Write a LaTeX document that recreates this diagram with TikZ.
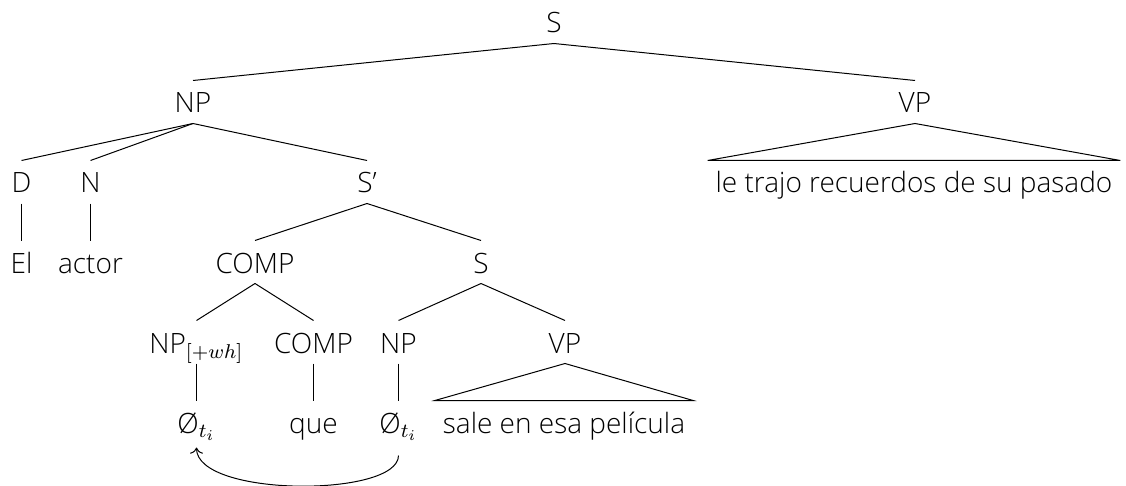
\documentclass[tikz,border=0pt]{standalone}
\usepackage{fontspec}
\setmainfont{Open Sans}[UprightFont=* Light]
\usepackage{tikz}
\usetikzlibrary{arrows.meta, positioning, calc}

\tikzset{
    lbl/.style={anchor=base, font=\fontsize{11.2pt}{13pt}\selectfont, inner xsep=3pt, inner ysep=0pt, text height=12.8pt, text depth=4pt},
    branch/.style={line width=0.4pt},
}

\begin{document}
\begin{tikzpicture}[x=0.4pt, y=-0.4pt]
    \useasboundingbox (0,0) rectangle (1126,486);

    % Labels
    \node[lbl] (s)    at (554,33)  {S};
    \node[lbl] (np)   at (193,113) {NP};
    \node[lbl] (vp)   at (915,113) {VP};
    \node[lbl] (d)    at (21.5,193)  {D};
    \node[lbl] (n)    at (90.5,193)  {N};
    \node[lbl] (sbar) at (367,193) {S’};
    \node[lbl] (vpw)  at (914,193) {le trajo recuerdos de su pasado};
    \node[lbl] (el)   at (21.5,273)  {El};
    \node[lbl] (actor) at (90.5,273) {actor};
    \node[lbl] (comp) at (255,273) {COMP};
    \node[lbl] (s2)   at (481,273) {S};
    \node[lbl] (npwh) at (196.5,353) {NP$_{[+wh]}$};
    \node[lbl] (comp2) at (313.5,353) {COMP};
    \node[lbl] (np2)  at (398.5,353) {NP};
    \node[lbl] (vp2)  at (565,353) {VP};
    \node[lbl] (t1)   at (196.5,433) {Ø$_{t_i}$};
    \node[lbl] (que)  at (313.5,433) {que};
    \node[lbl] (t2)   at (398.5,433) {Ø$_{t_i}$};
    \node[lbl] (vpw2) at (564,433) {sale en esa película};

    % Branches
    \draw[branch] (s.south) -- (np.north);
    \draw[branch] (s.south) -- (vp.north);
    \draw[branch] (np.south) -- (d.north);
    \draw[branch] (np.south) -- (n.north);
    \draw[branch] (np.south) -- (sbar.north);
    \draw[branch] (d.south) -- (el.north);
    \draw[branch] (n.south) -- (actor.north);
    \draw[branch] (sbar.south) -- (comp.north);
    \draw[branch] (sbar.south) -- (s2.north);
    \draw[branch] (comp.south) -- (npwh.north);
    \draw[branch] (comp.south) -- (comp2.north);
    \draw[branch] (s2.south) -- (np2.north);
    \draw[branch] (s2.south) -- (vp2.north);
    \draw[branch] (npwh.south) -- (t1.north);
    \draw[branch] (comp2.south) -- (que.north);
    \draw[branch] (np2.south) -- (t2.north);

    % Roofs
    \draw[branch] (vp.south) -- (vpw.north west) -- (vpw.north east) -- cycle;
    \draw[branch] (vp2.south) -- (vpw2.north west) -- (vpw2.north east) -- cycle;

    % Movement
    \draw[branch, ->] ([yshift=-4.8pt]t2.south) .. controls +(0,42) and +(0,50) .. ([yshift=-1.6pt]t1.south);
\end{tikzpicture}
\end{document}
